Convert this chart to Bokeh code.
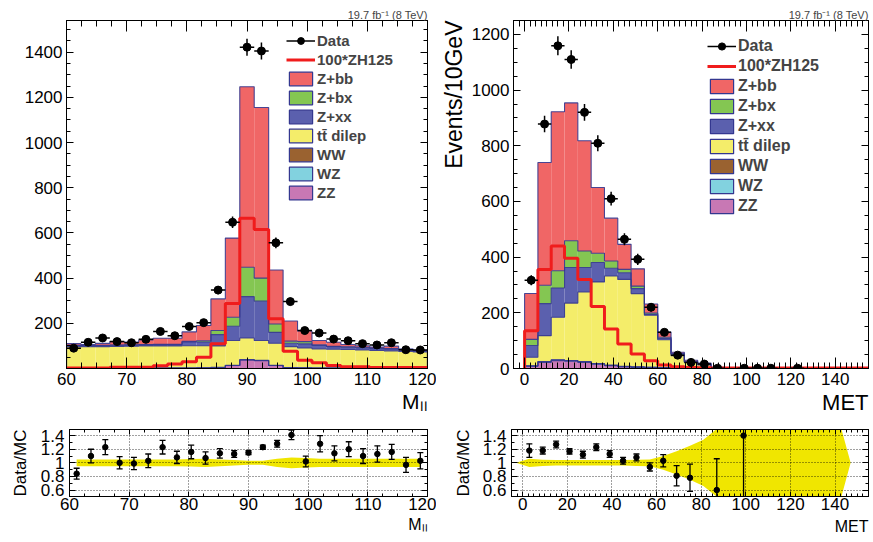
import numpy as np
from bokeh.plotting import figure
from bokeh.models import (Range1d, LinearAxis, SingleIntervalTicker, FixedTicker, Title,
                          Legend, LegendItem, CustomJSTickFormatter)
from bokeh.layouts import row, column
from bokeh.embed import file_html
from bokeh.resources import INLINE

FONT = "Liberation Sans"
NAN = float("nan")

# ---------------- M_ll panel (left) ----------------
mll_centers = [61.2, 63.6, 66.0, 68.4, 70.8, 73.2, 75.6, 78.0, 80.4, 82.8, 85.2, 87.6, 90.0,
               92.4, 94.8, 97.2, 99.6, 102.0, 104.4, 106.8, 109.2, 111.6, 114.0, 116.4, 118.8]
mll_halfwidth = 1.2
mll_data = [90, 116, 135, 119, 114, 129, 164, 145, 186, 203, 347, 647, 1422,
            1405, 556, 296, 168, 157, 130, 123, 110, 104, 114, 83, 82]
mll_ZZ = [1, 1, 1, 1, 1, 1, 1, 1, 1, 2, 4, 13, 38, 35, 13, 3, 2, 1, 1, 1, 1, 1, 1, 1, 1]
mll_WZ = [0.5, 0.5, 0.5, 0.5, 0.5, 0.5, 0.5, 0.5, 0.5, 0.5, 0.5, 0.5, 0.5,
          0.5, 0.5, 0.5, 0.5, 0.5, 0.5, 0.5, 0.5, 0.5, 0.5, 0.5, 0.5]
mll_WW = [0.5, 0.5, 0.5, 0.5, 0.5, 0.5, 0.5, 0.5, 0.5, 0.5, 0.5, 0.5, 0.5,
          0.5, 0.5, 0.5, 0.5, 0.5, 0.5, 0.5, 0.5, 0.5, 0.5, 0.5, 0.5]
mll_tt = [95, 95, 95, 96, 97, 98, 98, 98, 99, 98, 95, 110, 96, 88, 98, 93, 88, 85, 83, 82, 80, 78, 76, 74, 71]
mll_Zxx = [5, 5, 5, 5, 5, 5, 6, 6, 16, 16, 50, 63, 183, 174, 48, 15, 18, 15, 11, 10, 10, 9, 8, 8, 5]
mll_Zbx = [1, 1, 1, 1, 1, 1, 1, 1, 3, 6, 18, 40, 130, 102, 37, 9, 10, 3, 2, 2, 2, 2, 2, 1, 1]
mll_Zbb = [7, 3, 8, 15, 12, 20, 27, 27, 42, 67, 140, 350, 799, 755, 239, 89, 47, 19, 18, 10, 7, 4, 11, 1, 1]
mll_ZH100 = [2, 2, 2, 5, 5, 5, 12, 20, 30, 50, 110, 288, 665, 615, 220, 76, 37, 25, 13, 8, 8, 4, 4, 4, 4]
mll_ratio = [0.84, 1.10, 1.23, 1.00, 0.99, 1.03, 1.23, 1.08, 1.16, 1.07, 1.14, 1.13, 1.15,
             1.23, 1.28, 1.41, 1.02, 1.28, 1.14, 1.20, 1.10, 1.13, 1.16, 0.97, 1.03]
mll_ratio_err = [0.08, 0.10, 0.11, 0.09, 0.09, 0.10, 0.10, 0.09, 0.10, 0.09, 0.07, 0.05, 0.03,
                 0.03, 0.05, 0.07, 0.08, 0.12, 0.11, 0.11, 0.11, 0.12, 0.11, 0.11, 0.12]
mll_band = [0.05, 0.05, 0.05, 0.05, 0.05, 0.05, 0.05, 0.05, 0.055, 0.06, 0.05, 0.04, 0.03,
            0.03, 0.06, 0.08, 0.07, 0.06, 0.06, 0.06, 0.06, 0.06, 0.06, 0.06, 0.06]

# ---------------- MET panel (right) ----------------
met_centers = [3, 9, 15, 21, 27, 33, 39, 45, 51, 57, 63, 69, 75, 81, 87, 93, 99, 105,
               111, 117, 123, 129, 135, 141, 147, 153]
met_halfwidth = 3.0
met_data = [317, 878, 1159, 1110, 920, 809, 610, 464, 392, 220, 130, 48, 22, 16, 1, 0, 1, 1,
            1, 0, 1, 0, 0, 0, 0, 0]
met_ZZ = [8, 22, 28, 26, 22, 15, 10, 6, 4, 3, 2, 1, 1, 0.5, 0.3, 0.2, 0.1, 0.1, 0.1, 0, 0, 0, 0, 0, 0, 0]
met_WZ = [1, 2, 2, 2, 2, 2, 1, 1, 1, 1, 0.5, 0.3, 0.2, 0.1, 0, 0, 0, 0, 0, 0, 0, 0, 0, 0, 0, 0]
met_WW = [0.5, 1, 1, 1, 1, 1, 1, 1, 1, 0.5, 0.5, 0.3, 0.2, 0.1, 0, 0, 0, 0, 0, 0, 0, 0, 0, 0, 0, 0]
met_tt = [31, 93, 153, 206, 250, 293, 320, 312, 263, 187, 100, 44, 21, 12, 2.2, 1.0, 0.5, 0.3,
          0.2, 0.3, 0.2, 0.2, 0.1, 0.1, 0.1, 0.1]
met_Zxx = [42, 115, 105, 128, 88, 70, 28, 24, 18, 3, 5, 6, 2, 3, 0.5, 0.3, 0.1, 0.1, 0.1, 0, 0, 0, 0, 0, 0, 0]
met_Zbx = [22, 66, 62, 96, 59, 33, 26, 12, 9, 5, 4, 2, 1, 1, 0, 0, 0, 0, 0, 0, 0, 0, 0, 0, 0, 0]
met_Zbb = [165, 441, 571, 495, 396, 236, 154, 90, 62, 32, 19, 5, 4, 3, 1, 0.5, 0.3, 0.2, 0.1, 0.1,
           0.1, 0.1, 0.1, 0.1, 0, 0]
met_ZH100 = [136, 356, 440, 396, 320, 223, 142, 88, 52, 28, 13, 6, 4, 3, 2, 2, 2, 2, 2, 2, 2, 2, 2, 2, 2, 2]
met_ratio_centers = [3, 9, 15, 21, 27, 33, 39, 45, 51, 57, 63, 69, 75, 81, 87, 93, 99]
met_ratio = [1.18, 1.18, 1.27, 1.17, 1.12, 1.23, 1.13, 1.03, 1.08, 0.94, 1.03, 0.81, 0.78, NAN, 0.60, NAN, 1.40]
met_ratio_err = [0.10, 0.05, 0.05, 0.04, 0.05, 0.05, 0.05, 0.05, 0.05, 0.06, 0.09, 0.15, 0.20, NAN, 0.46, NAN, 1.2]
met_band_centers = [-3, 3, 9, 15, 21, 27, 33, 39, 45, 51, 57, 63, 69, 75, 81, 87, 93, 99, 105,
                    111, 117, 123, 129, 135, 141, 147]
met_band = [0.0, 0.06, 0.045, 0.04, 0.04, 0.04, 0.04, 0.04, 0.04, 0.045, 0.05, 0.10, 0.17, 0.25,
            0.34, 0.50, 0.75, 0.75, 0.75, 0.75, 0.75, 0.75, 0.75, 0.75, 0.72, 0.0]

# ---------------- ticks / labels / styles ----------------
mll_yticks = [200, 400, 600, 800, 1000, 1200, 1400]
met_yticks = [0, 200, 400, 600, 800, 1000, 1200]
ratio_yticks = [0.6, 0.8, 1.0, 1.2, 1.4]
ratio_ylabels = ["0.6", "0.8", "1", "1.2", "1.4"]
lumi_text = "19.7 fb\u207b\u00b9 (8 TeV)"
mll_title = "M\u2097\u2097"

stack_names = ["ZZ", "WZ", "WW", "tt\u0304 dilep", "Z+xx", "Z+bx", "Z+bb"]
stack_colors = ["#c878b4", "#82d2df", "#9a6230", "#f4ed6a", "#5b60ae", "#84c652", "#f06666"]
OUTLINE = "#34378f"
ZH_COLOR = "#f01c1c"
BAND_COLOR = "#f0e600"

LEFT_W, RIGHT_W = 436, 436
TOP_H, RATIO_H = 418, 123


def step_xy(edges, vals):
    xs = np.concatenate([[edges[0]], edges, [edges[-1]]])
    ys = np.concatenate([[0.0], vals, [vals[-1]], [0.0]])
    return xs, ys


def style_axis(ax, tick_in, minor_in, font_px=17, standoff=4, hidden=False):
    ax.major_tick_in = tick_in
    ax.major_tick_out = 0
    ax.minor_tick_in = minor_in
    ax.minor_tick_out = 0
    ax.axis_line_color = "black"
    ax.major_tick_line_color = "black"
    ax.minor_tick_line_color = "black"
    ax.major_label_text_font = FONT
    ax.major_label_text_color = "black"
    if hidden:
        ax.formatter = CustomJSTickFormatter(code="return ''")
        ax.major_label_text_font_size = "1px"
        ax.major_label_standoff = 0
        ax.axis_label_standoff = 0
    else:
        ax.major_label_text_font_size = f"{font_px}px"
        ax.major_label_standoff = standoff


def side_title(p, text, size, place, align, standoff=0):
    t = Title(text=text, align=align, text_font=FONT, text_font_size=f"{size}px",
              text_font_style="normal", text_color="black", standoff=standoff, offset=0)
    p.add_layout(t, place)


def make_fig(width, height, xr, yr, bl, br, bt, bb):
    p = figure(width=width, height=height, x_range=Range1d(*xr), y_range=Range1d(*yr),
               output_backend="svg", toolbar_location=None, min_border=0,
               min_border_left=bl, min_border_right=br, min_border_top=bt, min_border_bottom=bb)
    p.outline_line_color = "black"
    p.outline_line_width = 1
    p.background_fill_color = "white"
    p.border_fill_color = "white"
    return p


def top_panel(width, xr, yr, bl, br, centers, hw, comps, zh, data, xticker_args, yticks,
              ytick_minor, legend_loc, legend_font, legend_row):
    p = make_fig(width, TOP_H, xr, yr, bl, br, 20, 50)
    p.xgrid.visible = False
    p.ygrid.visible = False
    p.title.text = lumi_text
    p.title.align = "right"
    p.title.text_font = FONT
    p.title.text_font_size = "11px"
    p.title.text_font_style = "normal"
    p.title.standoff = 0
    p.title.offset = 0

    c = np.array(centers, dtype=float)
    left = c - hw
    right = c + hw
    edges = np.append(left, right[-1])

    base = np.zeros(len(c))
    proxies = []
    tops = []
    for comp, col in zip(comps, stack_colors):
        top = base + np.array(comp, dtype=float)
        p.quad(left=left, right=right, bottom=base, top=top, fill_color=col, line_color=None)
        proxy = p.quad(left=left, right=right, bottom=base, top=top, fill_color=col,
                       line_color=OUTLINE, line_width=1.2, visible=False)
        proxies.append(proxy)
        tops.append(top)
        base = top
    for top in tops:
        sx, sy = step_xy(edges, top)
        p.step(sx, sy, mode="after", line_color=OUTLINE, line_width=1.1, line_alpha=0.9)

    zx, zy = step_xy(edges, np.array(zh, dtype=float))
    zh_r = p.step(zx, zy, mode="after", line_color=ZH_COLOR, line_width=3)

    d = np.array(data, dtype=float)
    d = np.where(d > 0, d, np.nan)
    err = np.sqrt(d)
    p.segment(x0=c, y0=d - err, x1=c, y1=d + err, line_color="black", line_width=1.5)
    hbar = p.segment(x0=left, y0=d, x1=right, y1=d, line_color="black", line_width=1.5)
    dots = p.scatter(x=c, y=d, size=8, marker="circle", fill_color="black", line_color="black")

    xt = SingleIntervalTicker(interval=xticker_args[0], num_minor_ticks=xticker_args[1])
    yt = FixedTicker(ticks=yticks, minor_ticks=ytick_minor)
    p.xaxis.ticker = xt
    p.yaxis.ticker = yt
    style_axis(p.xaxis[0], 11, 6, 17, 4)
    style_axis(p.yaxis[0], 7, 4, 17, 4)
    ax_top = LinearAxis(ticker=xt)
    style_axis(ax_top, 11, 6, hidden=True)
    p.add_layout(ax_top, "above")
    ax_right = LinearAxis(ticker=yt)
    style_axis(ax_right, 7, 4, hidden=True)
    p.add_layout(ax_right, "right")

    items = [LegendItem(label="Data", renderers=[hbar, dots]),
             LegendItem(label="100*ZH125", renderers=[zh_r])]
    for name, prox in reversed(list(zip(stack_names, proxies))):
        items.append(LegendItem(label=name, renderers=[prox]))
    leg = Legend(items=items, location=legend_loc, padding=0, margin=0, spacing=0,
                 glyph_width=29, glyph_height=legend_row - 2, label_height=legend_row,
                 label_standoff=2, border_line_color=None, background_fill_alpha=0,
                 label_text_font=FONT, label_text_font_style="bold",
                 label_text_font_size=f"{legend_font}px")
    p.add_layout(leg)
    return p


# ---------------- left top ----------------
p1 = top_panel(LEFT_W, (60, 120), (0, 1540), 66, 9, mll_centers, mll_halfwidth,
               [mll_ZZ, mll_WZ, mll_WW, mll_tt, mll_Zxx, mll_Zbx, mll_Zbb], mll_ZH100, mll_data,
               (10, 4), mll_yticks, list(np.arange(0, 1550, 50)), (220, 166), 15, 19)
side_title(p1, mll_title, 21, "below", "right", 0)

# ---------------- right top ----------------
p2 = top_panel(RIGHT_W, (-5, 155), (0, 1250), 75, 4, met_centers, met_halfwidth,
               [met_ZZ, met_WZ, met_WW, met_tt, met_Zxx, met_Zbx, met_Zbb], met_ZH100, met_data,
               (20, 8), met_yticks, list(np.arange(0, 1300, 50)), (194, 152), 16, 20)
side_title(p2, "MET", 22, "below", "right", 1)
side_title(p2, "Events/10GeV", 23, "left", "right", 4)


# ---------------- ratio panels ----------------
def ratio_panel(width, xr, bl, br, xint, xminor, band_c, band_w, rc, rv, re):
    p = make_fig(width, RATIO_H, xr, (0.505, 1.49), bl, br, 11, 45)
    bc = np.array(band_c, dtype=float)
    bw = np.array(band_w, dtype=float)
    px = np.concatenate([bc, bc[::-1]])
    py = np.concatenate([1 + bw, (1 - bw)[::-1]])
    p.patch(px, py, fill_color=BAND_COLOR, line_color=None)

    x = np.array(rc, dtype=float)
    v = np.array(rv, dtype=float)
    e = np.array(re, dtype=float)
    p.segment(x0=x, y0=v - e, x1=x, y1=v + e, line_color="black", line_width=1.3)
    p.scatter(x=x, y=v + e, marker="dash", size=6, line_color="black", line_width=1.3)
    p.scatter(x=x, y=v - e, marker="dash", size=6, line_color="black", line_width=1.3)
    p.scatter(x=x, y=v, marker="circle", size=5.5, fill_color="black", line_color="black")

    xt = SingleIntervalTicker(interval=xint, num_minor_ticks=xminor)
    yt = FixedTicker(ticks=ratio_yticks, minor_ticks=list(np.arange(0.5, 1.5, 0.1)))
    p.xaxis.ticker = xt
    p.yaxis.ticker = yt
    p.yaxis.major_label_overrides = {t: s for t, s in zip(ratio_yticks, ratio_ylabels)}
    style_axis(p.xaxis[0], 5, 3, 17, 1)
    style_axis(p.yaxis[0], 6, 3, 17, 5)
    ax_top = LinearAxis(ticker=xt)
    style_axis(ax_top, 5, 3, hidden=True)
    p.add_layout(ax_top, "above")
    ax_right = LinearAxis(ticker=yt)
    style_axis(ax_right, 6, 3, hidden=True)
    p.add_layout(ax_right, "right")

    p.xgrid.ticker = xt
    p.ygrid.ticker = FixedTicker(ticks=ratio_yticks)
    for g in (p.xgrid[0], p.ygrid[0]):
        g.grid_line_color = "black"
        g.grid_line_alpha = 0.75
        g.grid_line_dash = "1 2"
        g.grid_line_width = 1
        g.level = "guide"
    return p


p3 = ratio_panel(LEFT_W, (60, 120), 66, 9, 10, 4, mll_centers, mll_band,
                 mll_centers, mll_ratio, mll_ratio_err)
side_title(p3, mll_title, 16, "below", "right", 3)
side_title(p3, "Data/MC", 17, "left", "center", 16)

p4 = ratio_panel(RIGHT_W, (-5, 155), 75, 4, 20, 8, met_band_centers, met_band,
                 met_ratio_centers, met_ratio, met_ratio_err)
side_title(p4, "MET", 16, "below", "right", 6)
side_title(p4, "Data/MC", 17, "left", "center", 13)

layout = column(row(p1, p2), row(p3, p4))
open("out.html", "w").write(file_html(layout, INLINE))
